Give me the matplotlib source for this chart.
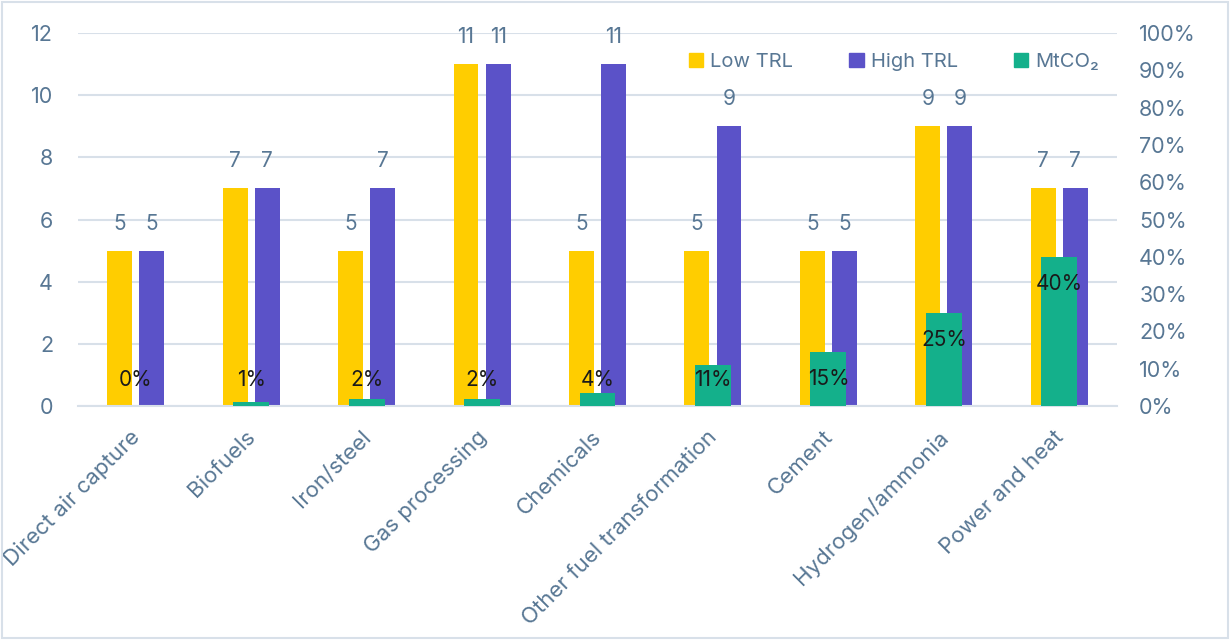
import matplotlib.pyplot as plt
from matplotlib.patches import Rectangle, Patch
from matplotlib.transforms import ScaledTranslation
import numpy as np

plt.rcParams['font.family'] = ['Inter', 'DejaVu Sans']

sectors = ['Direct air capture', 'Biofuels', 'Iron/steel', 'Gas processing',
           'Chemicals', 'Other fuel transformation', 'Cement',
           'Hydrogen/ammonia', 'Power and heat']
low_trl = [5, 7, 5, 11, 5, 5, 5, 9, 7]
high_trl = [5, 7, 7, 11, 11, 9, 5, 9, 7]
mtco2_share = [0.00, 0.01, 0.02, 0.02, 0.035, 0.11, 0.145, 0.25, 0.40]
mtco2_labels = ['0%', '1%', '2%', '2%', '4%', '11%', '15%', '25%', '40%']

YELLOW = '#FFCD00'
PURPLE = '#5B52C8'
GREEN = '#14B08B'
TXT = '#587794'
GRID = '#D8E0E9'
FS = 14.5

fig = plt.figure(figsize=(12.3, 6.41), dpi=100)
ax = fig.add_axes([78 / 1230, 1 - 406 / 641, (1117 - 78) / 1230, (406 - 33) / 641])
ax2 = ax.twinx()

x = np.arange(len(sectors))
bw = 0.216
off = 0.139

b1 = ax.bar(x - off, low_trl, bw, color=YELLOW, zorder=2)
b2 = ax.bar(x + off, high_trl, bw, color=PURPLE, zorder=2)
b3 = ax2.bar(x, mtco2_share, 0.31, color=GREEN, zorder=2)

for rects, vals in ((b1, low_trl), (b2, high_trl)):
    for r, v in zip(rects, vals):
        ax.annotate(str(v), (r.get_x() + r.get_width() / 2, v),
                    xytext=(0, 27), textcoords='offset pixels',
                    ha='center', va='center', fontsize=15, color=TXT)

# percentage labels sit inside the top of the bar, but never below a floor
for r, v, lab in zip(b3, mtco2_share, mtco2_labels):
    y = max(v - 0.072, 0.07)
    ax2.text(r.get_x() + r.get_width() / 2, y, lab, ha='center', va='center',
             fontsize=15, color='#1a1a1a', zorder=5)

ax.set_xlim(-0.5, len(sectors) - 0.5)
ax.set_ylim(0, 12)
ax.set_yticks(range(0, 13, 2))
ax2.set_ylim(0, 1)
ticks = np.arange(0, 1.01, 0.1)
ax2.set_yticks(ticks)
ax2.set_yticklabels([f'{int(round(t * 100))}%' for t in ticks])

ax.yaxis.grid(True, color=GRID, lw=1.5, zorder=0)
ax.set_axisbelow(True)
for a in (ax, ax2):
    for s in a.spines.values():
        s.set_visible(False)
    a.tick_params(length=0, labelsize=15.5, labelcolor=TXT)
ax.spines['bottom'].set_visible(True)
ax.spines['bottom'].set_color(GRID)
ax.spines['bottom'].set_linewidth(1.5)
ax.tick_params(axis='y', pad=18)
ax2.tick_params(axis='y', pad=16)

ax.set_xticks(x)
ax.set_xticklabels(sectors, rotation=45, ha='right', va='top',
                   rotation_mode='anchor', fontsize=16)
ax.tick_params(axis='x', pad=15)
shift = ScaledTranslation(-6 / 100, 0, fig.dpi_scale_trans)
for lab in ax.get_xticklabels():
    lab.set_transform(lab.get_transform() + shift)

handles = [Patch(color=YELLOW), Patch(color=PURPLE), Patch(color=GREEN)]
fig.legend(handles, ['Low TRL', 'High TRL', 'MtCO₂'], loc='center',
           bbox_to_anchor=(894 / 1230, 1 - 62 / 641), ncol=3, frameon=False,
           fontsize=FS, labelcolor=TXT, handlelength=0.7, handleheight=0.7,
           handletextpad=0.35, columnspacing=2.8)

fig.patches.append(Rectangle((0.002, 0.004), 0.996, 0.993, transform=fig.transFigure,
                             fill=False, ec=GRID, lw=1.5))

fig.savefig('out.png', dpi=100)
